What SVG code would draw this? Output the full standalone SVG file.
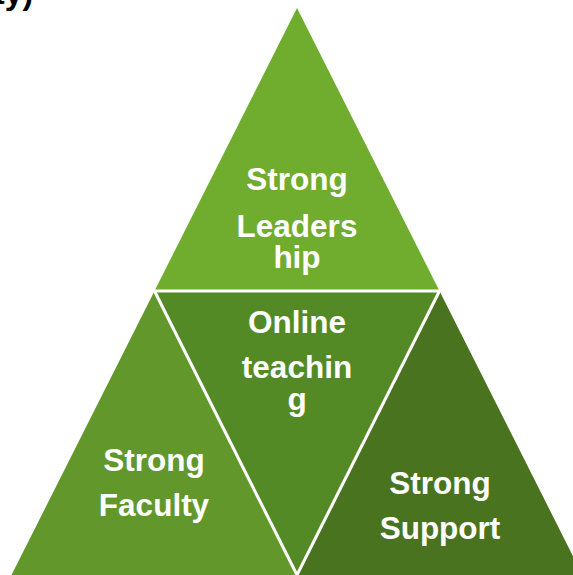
<svg xmlns="http://www.w3.org/2000/svg" width="573" height="575" viewBox="0 0 573 575">
  <style>
    .lbl { font-family: "Liberation Sans", Arial, sans-serif; font-weight: bold; font-size: 31.5px; fill: #ffffff; text-anchor: middle; }
    .frag { font-family: "Liberation Sans", Arial, sans-serif; font-weight: bold; font-size: 32px; fill: #000000; }
    .gap { stroke: #ffffff; stroke-width: 3; fill: none; }
  </style>
  <rect width="573" height="575" fill="#ffffff"/>
  <text class="frag" x="-6" y="4">ty)</text>
  <g id="top">
    <polygon points="297,8 439.5,291 154.5,291" fill="#70AD2F"/>
    <text class="lbl" x="297" y="190">Strong</text>
    <text class="lbl" x="297" y="237">Leaders</text>
    <text class="lbl" x="297" y="268">hip</text>
  </g>
  <g id="left">
    <polygon points="154.5,291 297,575 11.5,575" fill="#62982B"/>
    <text class="lbl" x="154" y="471">Strong</text>
    <text class="lbl" x="154" y="516">Faculty</text>
  </g>
  <g id="middle">
    <polygon points="154.5,291 439.5,291 297,575" fill="#548A26"/>
    <text class="lbl" x="297" y="333">Online</text>
    <text class="lbl" x="297" y="378">teachin</text>
    <text class="lbl" x="297" y="410">g</text>
  </g>
  <g id="right">
    <polygon points="439.5,291 582.5,575 297,575" fill="#4A7320"/>
    <text class="lbl" x="440" y="494">Strong</text>
    <text class="lbl" x="440" y="539">Support</text>
  </g>
  <g id="connectors">
    <line class="gap" x1="154.5" y1="291" x2="439.5" y2="291"/>
    <line class="gap" x1="154.5" y1="291" x2="297" y2="575"/>
    <line class="gap" x1="439.5" y1="291" x2="297" y2="575"/>
  </g>
</svg>
